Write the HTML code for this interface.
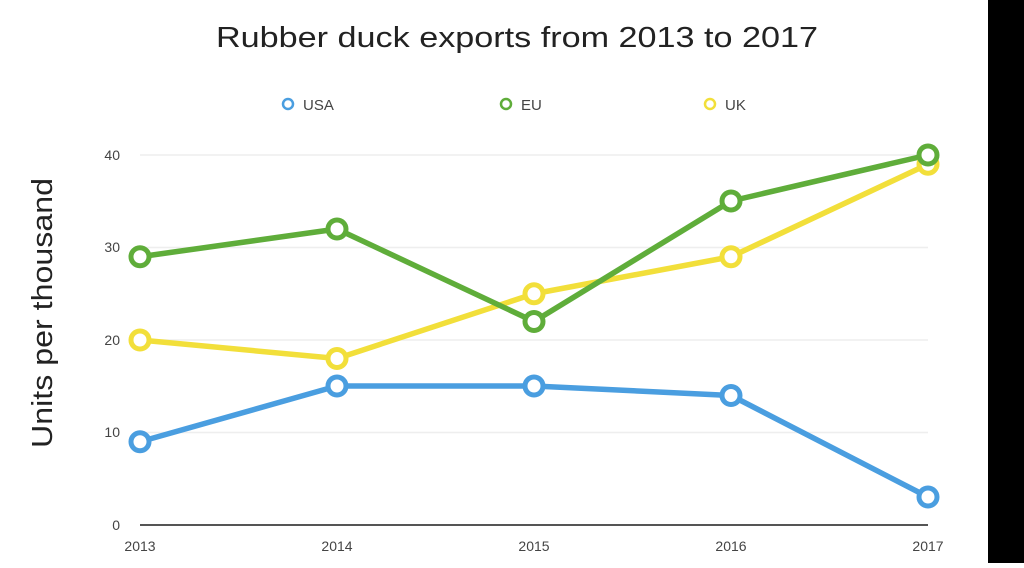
<!DOCTYPE html>
<html><head><style>
body{margin:0;width:1024px;height:563px;overflow:hidden;background:#fff;font-family:"Liberation Sans",sans-serif}
</style></head><body>
<svg width="1024" height="563" xmlns="http://www.w3.org/2000/svg" font-family="Liberation Sans, sans-serif">
<rect x="988" y="0" width="36" height="563" fill="#000"/>
<text x="216" y="47" font-size="29" textLength="602" lengthAdjust="spacingAndGlyphs" fill="#222">Rubber duck exports from 2013 to 2017</text>
<g font-size="15" fill="#444">
<circle cx="288" cy="104" r="5" fill="none" stroke="#4a9ee0" stroke-width="2.5"/><text x="303" y="110">USA</text>
<circle cx="506" cy="104" r="5" fill="none" stroke="#5fad3a" stroke-width="2.5"/><text x="521" y="110">EU</text>
<circle cx="710" cy="104" r="5" fill="none" stroke="#f2df3a" stroke-width="2.5"/><text x="725" y="110">UK</text>
</g>
<text transform="translate(52,448) rotate(-90)" font-size="29" textLength="270" lengthAdjust="spacingAndGlyphs" fill="#222">Units per thousand</text>
<g stroke="#eee" stroke-width="1.5">
<line x1="140" y1="155" x2="928" y2="155"/><line x1="140" y1="247.5" x2="928" y2="247.5"/>
<line x1="140" y1="340" x2="928" y2="340"/><line x1="140" y1="432.5" x2="928" y2="432.5"/>
</g>
<line x1="140" y1="525" x2="928" y2="525" stroke="#555" stroke-width="2"/>
<g font-size="14" fill="#444" text-anchor="end">
<text x="120" y="160">40</text><text x="120" y="252">30</text><text x="120" y="345">20</text><text x="120" y="437">10</text><text x="120" y="530">0</text>
</g>
<g font-size="14" fill="#444" text-anchor="middle">
<text x="140" y="551">2013</text><text x="337" y="551">2014</text><text x="534" y="551">2015</text><text x="731" y="551">2016</text><text x="928" y="551">2017</text>
</g>
<g fill="none" stroke-width="5.5" stroke-linejoin="round">
<polyline stroke="#f2df3a" points="140,340 337,358.5 534,293.75 731,256.75 928,164.25"/>
<polyline stroke="#4a9ee0" points="140,441.75 337,386 534,386 731,395.5 928,497"/>
<polyline stroke="#5fad3a" points="140,256.75 337,229 534,321.5 731,201 928,155"/>
</g>
<g fill="#fff" stroke-width="5">
<g stroke="#f2df3a"><circle cx="140" cy="340" r="9"/><circle cx="337" cy="358.5" r="9"/><circle cx="534" cy="293.75" r="9"/><circle cx="731" cy="256.75" r="9"/><circle cx="928" cy="164.25" r="9"/></g>
<g stroke="#4a9ee0"><circle cx="140" cy="441.75" r="9"/><circle cx="337" cy="386" r="9"/><circle cx="534" cy="386" r="9"/><circle cx="731" cy="395.5" r="9"/><circle cx="928" cy="497" r="9"/></g>
<g stroke="#5fad3a"><circle cx="140" cy="256.75" r="9"/><circle cx="337" cy="229" r="9"/><circle cx="534" cy="321.5" r="9"/><circle cx="731" cy="201" r="9"/><circle cx="928" cy="155" r="9"/></g>
</g>
</svg>
</body></html>
